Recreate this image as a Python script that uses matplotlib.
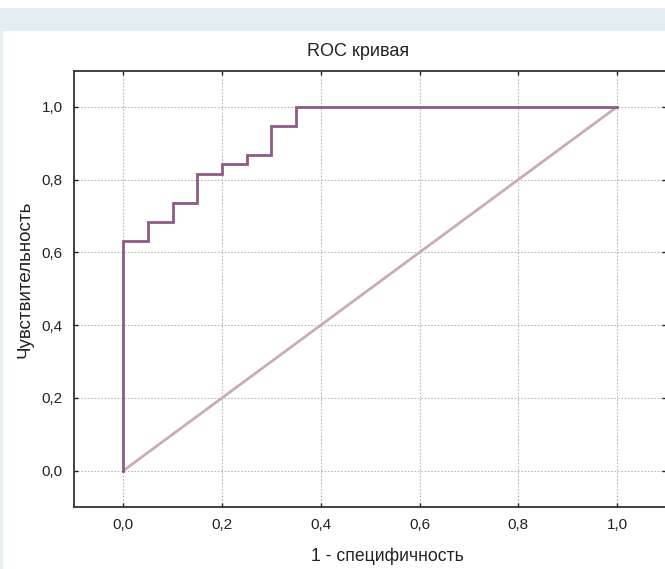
import matplotlib
matplotlib.use("Agg")
import matplotlib.pyplot as plt
from matplotlib.patches import Rectangle
from matplotlib.ticker import FuncFormatter

plt.rcParams['font.family'] = ['Liberation Sans', 'DejaVu Sans']

fpr = [0.0, 0.0, 0.05, 0.05, 0.10, 0.10, 0.15, 0.15, 0.20, 0.20, 0.25, 0.25, 0.30, 0.30, 0.35, 0.35, 1.0]
tpr = [0.0, 0.632, 0.632, 0.684, 0.684, 0.737, 0.737, 0.816, 0.816, 0.842, 0.842, 0.868, 0.868, 0.947, 0.947, 1.0, 1.0]
diag_x = [0.0, 1.0]
diag_y = [0.0, 1.0]
ticks = [0.0, 0.2, 0.4, 0.6, 0.8, 1.0]
title = "ROC кривая"
xlabel = "1 - специфичность"
ylabel = "Чувствительность"

W, H = 665, 569
fig = plt.figure(figsize=(W / 100, H / 100), dpi=100)
fig.patch.set_facecolor('white')
# top band and left border
fig.add_artist(Rectangle((0, 1 - 31/H), 1, 23/H, transform=fig.transFigure,
                         facecolor='#e4edf0', edgecolor='none', zorder=0))
fig.add_artist(Rectangle((0, 0), 2.5/W, 1 - 31/H, transform=fig.transFigure,
                         facecolor='#e4edf0', edgecolor='none', zorder=0))

ax = fig.add_axes([74/W, 1 - 507/H, (W - 74)/W + 0.002, (507 - 70.5)/H])
ax.set_xlim(-0.1, 1.1)
ax.set_ylim(-0.1, 1.1)

ax.plot(diag_x, diag_y, color='#cbabb8', lw=2.0, solid_capstyle='butt', zorder=3)
ax.plot(fpr, tpr, color='#8e5a86', lw=2.0, solid_joinstyle='miter', zorder=4)

ax.set_xticks(ticks)
ax.set_yticks(ticks)
fmt = FuncFormatter(lambda v, p: f"{v:.1f}".replace('.', ','))
ax.xaxis.set_major_formatter(fmt)
ax.yaxis.set_major_formatter(fmt)
ax.tick_params(direction='in', length=3, width=1, colors='#222222', labelsize=11,
               top=True, right=True, pad=8, labelcolor='#222222')
ax.grid(True, color='#b8b8b8', linestyle=(0, (1.5, 1.5)), linewidth=0.8)
for s in ax.spines.values():
    s.set_color('#333333')
    s.set_linewidth(1.3)

fig.text(358/W, 1 - 55.7/H, title, fontsize=13, ha='center', va='baseline', color='#222222')
fig.text(387/W, 1 - 561/H, xlabel, fontsize=12.7, ha='center', va='baseline', color='#222222')
fig.text(25/W, 1 - 279/H, ylabel, fontsize=13.5, ha='center', va='center',
         rotation=90, color='#222222')

fig.savefig("out.png", dpi=100)
